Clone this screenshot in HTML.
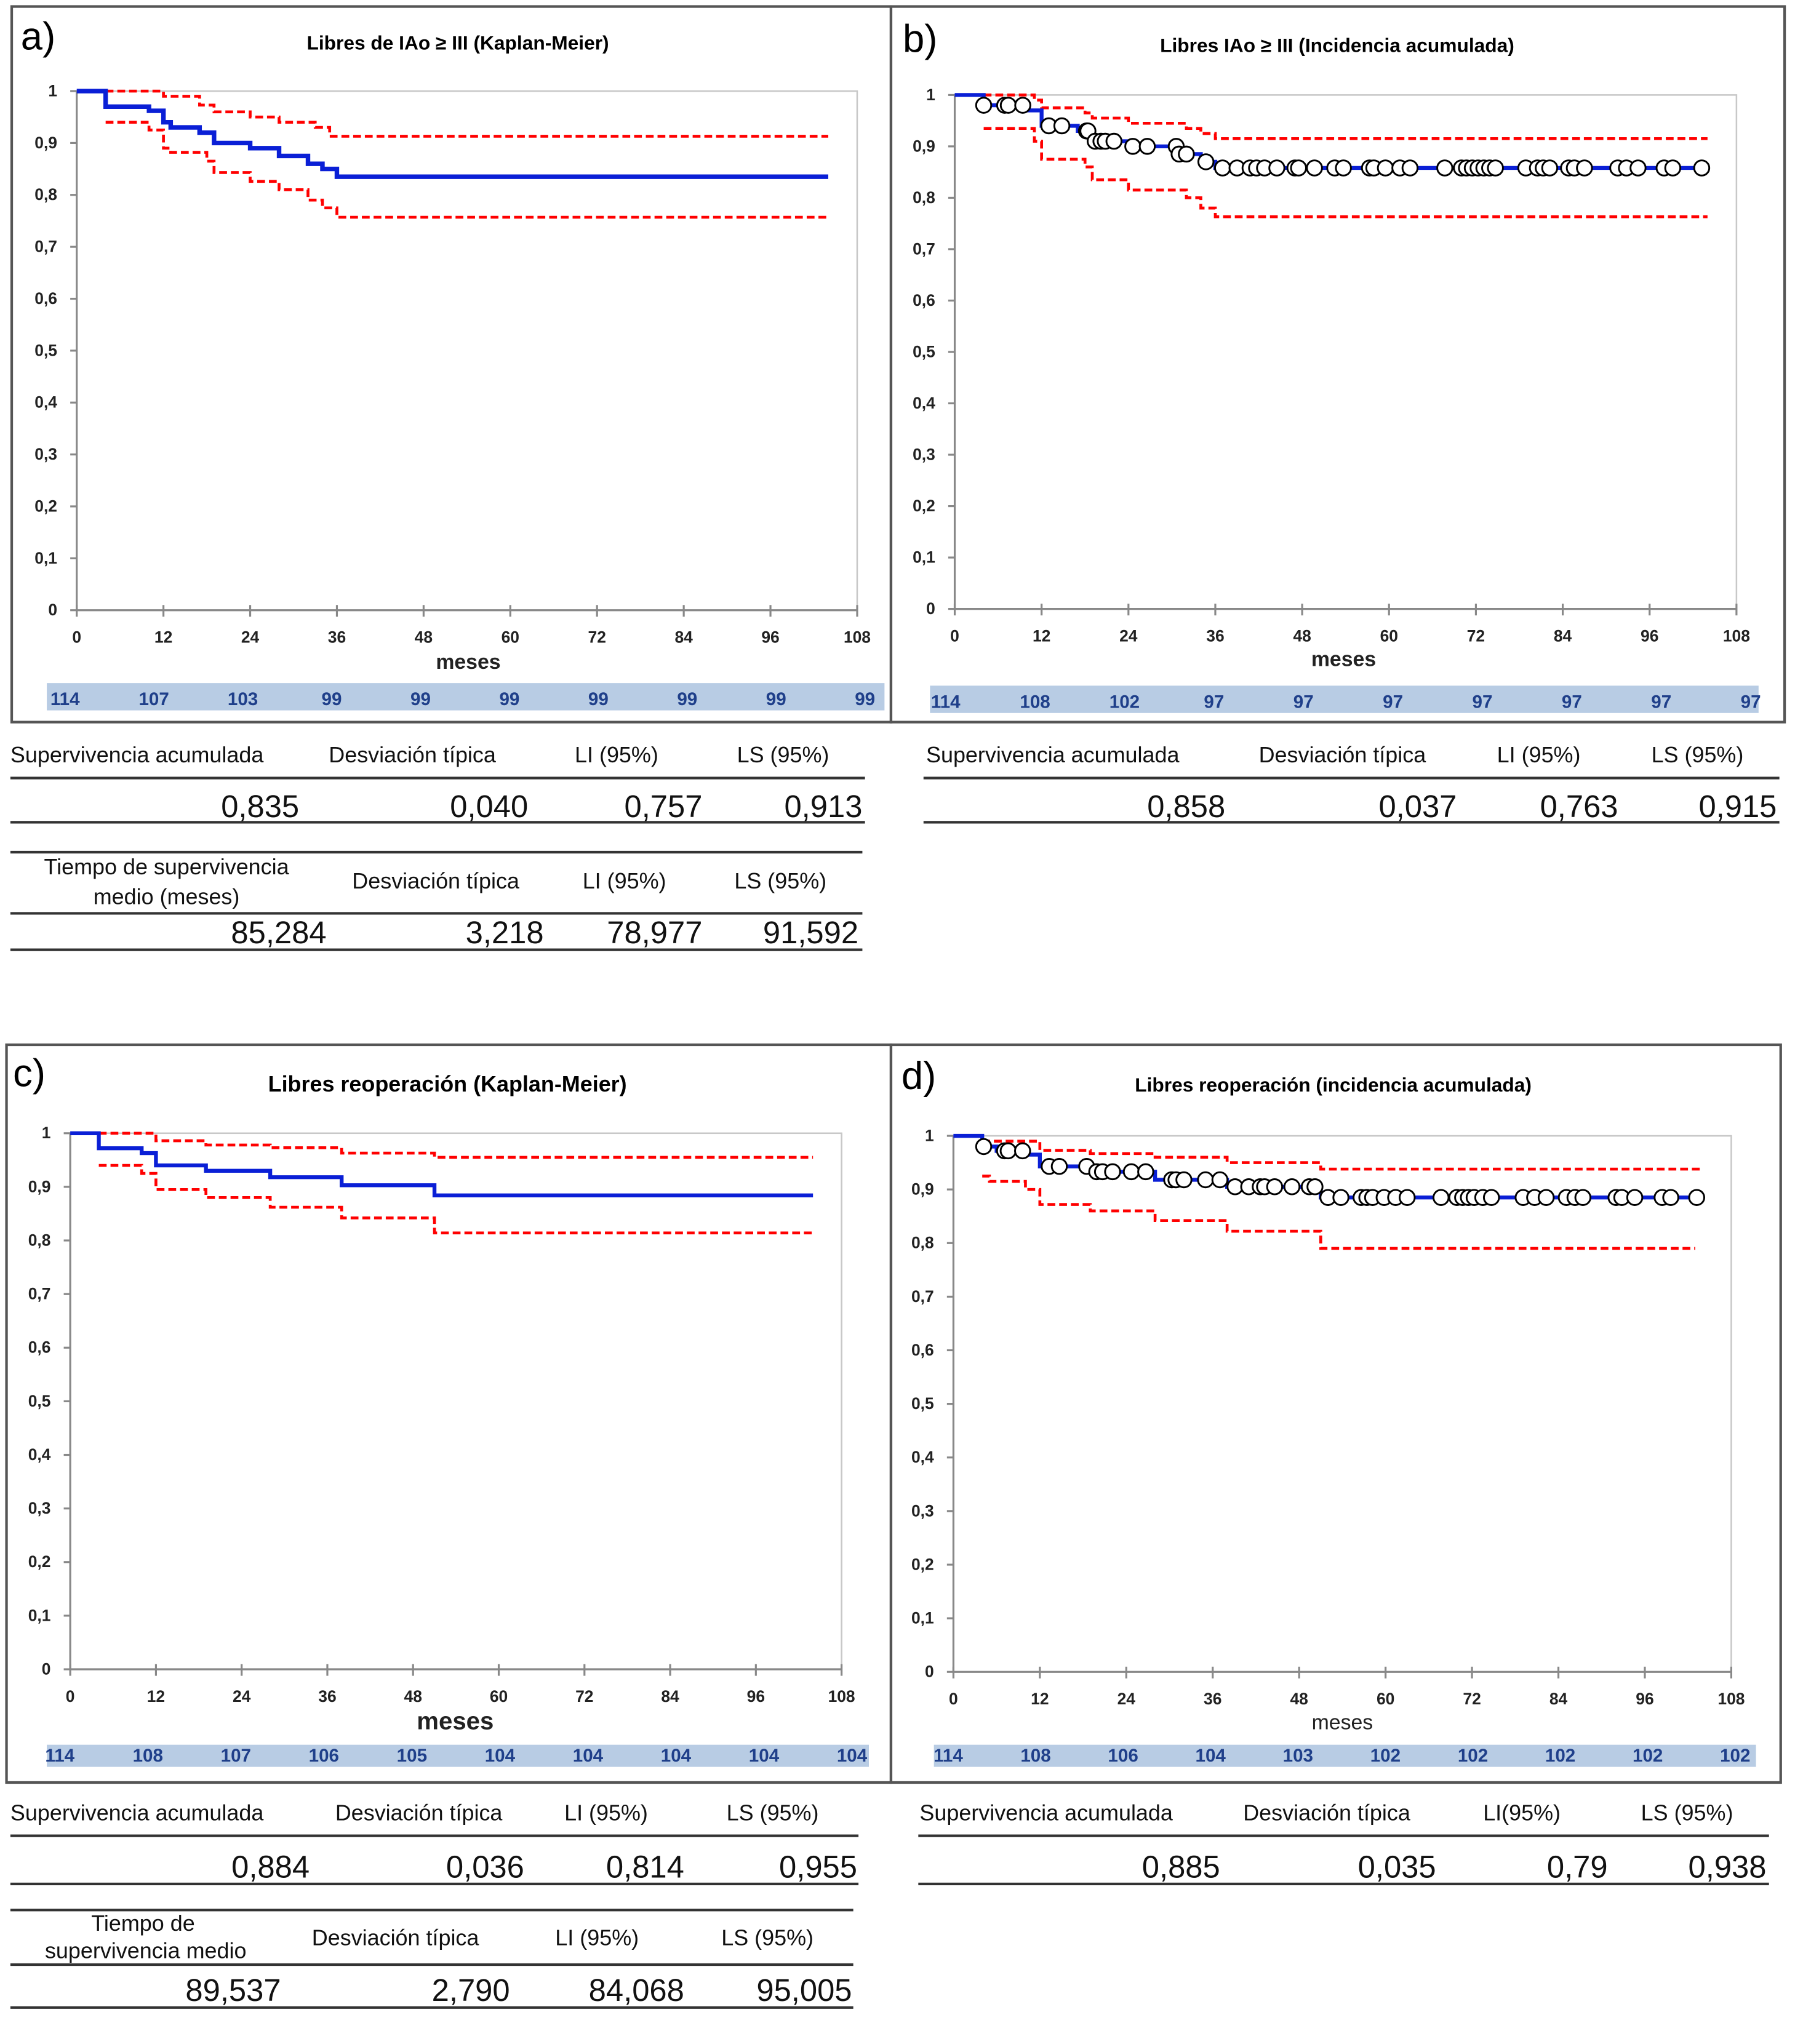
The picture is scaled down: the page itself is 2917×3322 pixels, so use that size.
<!DOCTYPE html>
<html><head><meta charset="utf-8"><style>
html,body{margin:0;padding:0;background:#fff}
svg{display:block}
text{font-family:"Liberation Sans",sans-serif}
</style></head><body>
<svg id="fig" xmlns="http://www.w3.org/2000/svg" width="2917" height="3322" viewBox="0 0 1380 1571" preserveAspectRatio="none">
<rect width="1380" height="1571" fill="#fff"/>
</svg>
<script>
// ---------- DATA ----------
const xTicks = [0,12,24,36,48,60,72,84,96,108];
const yTicks = [0,0.1,0.2,0.3,0.4,0.5,0.6,0.7,0.8,0.9,1];
const yTickLabels = ["0","0,1","0,2","0,3","0,4","0,5","0,6","0,7","0,8","0,9","1"];
const xTickLabels = ["0","12","24","36","48","60","72","84","96","108"];

// panel a
const aKmT = [0,4,10,12,13,17,19,24,28,32,34,36,104];
const aKmV = [1,0.97,0.962,0.94,0.93,0.92,0.90,0.89,0.875,0.86,0.85,0.835,0.835];
const aUpT = [4,12,17,19,24,28,33,35,104];
const aUpV = [1,0.99,0.973,0.96,0.95,0.94,0.93,0.913,0.913];
const aLoT = [4,10,12,13,18,19,24,28,32,34,36,104];
const aLoV = [0.94,0.925,0.89,0.882,0.865,0.843,0.826,0.81,0.79,0.775,0.757,0.757];
const aRisk = ["114","107","103","99","99","99","99","99","99","99"];

// panel b
const bKmT = [0,4,10,12,17,19,24,31,34,36,104];
const bKmV = [1,0.98,0.97,0.94,0.93,0.91,0.90,0.885,0.87,0.858,0.858];
const bUpT = [4,11,12,18,19,24,32,34,36,104];
const bUpV = [1,0.99,0.975,0.965,0.955,0.945,0.935,0.925,0.915,0.915];
const bLoT = [4,11,12,18,19,24,32,34,36,104];
const bLoV = [0.935,0.91,0.875,0.86,0.835,0.815,0.80,0.78,0.763,0.763];
const bCens = [4,6.9,7.4,9.4,13,14.8,18.2,18.4,19.4,20.2,20.8,22,24.6,26.6,30.6,31,32,34.7,37,39,40.8,41.7,42.8,44.5,47,47.5,49.7,52.5,53.7,57.3,57.9,59.5,61.5,62.9,67.7,70,70.7,71.5,72.3,73.1,73.9,74.7,78.9,80.5,81.3,82.2,84.8,85.6,87,91.6,92.8,94.4,98,99.2,103.2];
const bRisk = ["114","108","102","97","97","97","97","97","97","97"];

// panel c
const cKmT = [0,4,10,12,19,28,38,51,104];
const cKmV = [1,0.972,0.963,0.94,0.93,0.918,0.903,0.884,0.884];
const cUpT = [4,12,19,28,38,51,104];
const cUpV = [1,0.986,0.978,0.973,0.963,0.955,0.955];
const cLoT = [4,10,12,19,28,38,51,104];
const cLoV = [0.94,0.925,0.895,0.88,0.862,0.842,0.814,0.814];
const cRisk = ["114","108","107","106","105","104","104","104","104","104"];

// panel d
const dKmT = [0,4,6,10,12,19,28,38,51,104];
const dKmV = [1,0.98,0.972,0.965,0.943,0.933,0.918,0.905,0.885,0.885];
const dUpT = [4,12,19,28,38,51,104];
const dUpV = [0.99,0.973,0.967,0.96,0.95,0.938,0.938];
const dLoT = [4,5,10,12,19,28,38,51,103];
const dLoV = [0.925,0.915,0.9,0.872,0.86,0.842,0.822,0.79,0.79];
const dCens = [4.2,7.1,7.6,9.6,13.3,14.7,18.5,19.9,20.7,22.1,24.7,26.7,30.3,30.9,32,35,37,39.1,41,42.6,43.2,44.6,47,49.4,50.2,52,53.8,56.6,57.4,58.2,59.8,61.4,63,67.7,69.9,70.7,71.5,72.3,73.5,74.7,79.1,80.7,82.3,85.1,86.3,87.4,92,92.8,94.6,98.4,99.6,103.2];
const dRisk = ["114","108","106","104","103","102","102","102","102","102"];

// ---------- RENDER ----------
const NS = "http://www.w3.org/2000/svg";
const svg = document.getElementById('fig');
function mk(tag, attrs, parent){
  const e = document.createElementNS(NS, tag);
  for (const k in attrs) e.setAttribute(k, attrs[k]);
  (parent||svg).appendChild(e);
  return e;
}
function txt(s, x, y, size, opts, parent){
  opts = opts||{};
  const t = mk('text', {x:x, y:y, 'font-size':size, fill:opts.fill||'#000',
    'font-weight':opts.bold?'bold':'normal', 'text-anchor':opts.anchor||'start'}, parent);
  t.textContent = s;
  return t;
}
function stepPath(T, V, sx, sy){
  let d = 'M'+sx(T[0])+' '+sy(V[0]);
  for (let i=1;i<T.length;i++){
    d += ' L'+sx(T[i])+' '+sy(V[i-1]);
    d += ' L'+sx(T[i])+' '+sy(V[i]);
  }
  return d;
}
function valAt(T, V, t){
  let v = V[0];
  for (let i=0;i<T.length;i++){ if (T[i] <= t) v = V[i]; }
  return v;
}

function panel(p){
  const g = mk('g', {});
  
  
  const fr = mk('rect', {x:p.fx, y:p.fy, width:p.fw, height:p.fh, fill:'none', stroke:'#555', 'stroke-width':2}, g);
  
  
  const lab = txt(p.letter, p.lx, p.ly, 30, {}, g);
  
  
  const ti = txt(p.title, p.tx, p.ty, p.tsize, {bold:true, anchor:'middle'}, g);
  
  
  const sx = t => p.x0 + (t/108)*(p.x1-p.x0);
  const sy = v => p.y0 - v*(p.y0-p.y1);
  const pa = mk('rect', {x:p.x0, y:p.y1, width:p.x1-p.x0, height:p.y0-p.y1, fill:'#fff', stroke:'#c8c8c8', 'stroke-width':1.2}, g);
  
  
  const ya = mk('line', {x1:p.x0, y1:p.y1, x2:p.x0, y2:p.y0, stroke:'#888', 'stroke-width':1.5}, g);
  
  
  const xa = mk('line', {x1:p.x0, y1:p.y0, x2:p.x1, y2:p.y0, stroke:'#888', 'stroke-width':1.5}, g);
  
  
  yTicks.forEach((v,i)=>{
    const tk = mk('line', {x1:p.x0-5, y1:sy(v), x2:p.x0, y2:sy(v), stroke:'#888', 'stroke-width':1.5}, g);
    
    
    const tl = txt(yTickLabels[i], p.x0-15, sy(v)+4, 12.5, {bold:true, anchor:'end', fill:'#222'}, g);
    
    
  });
  xTicks.forEach((t,i)=>{
    const tk = mk('line', {x1:sx(t), y1:p.y0-4, x2:sx(t), y2:p.y0+5, stroke:'#888', 'stroke-width':1.5}, g);
    
    
    const tl = txt(xTickLabels[i], sx(t), p.y0+25, 12.5, {bold:true, anchor:'middle', fill:'#222'}, g);
    
    
  });
  const xt = txt('meses', p.mx, p.my, p.msize, {bold:p.mbold, anchor:'middle', fill:'#222'}, g);
  
  
  const up = mk('path', {d:stepPath(p.upT,p.upV,sx,sy), fill:'none', stroke:'#f00', 'stroke-width':2.2, 'stroke-dasharray':'6,3'}, g);
  
  
  const lo = mk('path', {d:stepPath(p.loT,p.loV,sx,sy), fill:'none', stroke:'#f00', 'stroke-width':2.2, 'stroke-dasharray':'6,3'}, g);
  
  
  const km = mk('path', {d:stepPath(p.kmT,p.kmV,sx,sy), fill:'none', stroke:'#0a1fd6', 'stroke-width':p.kmw}, g);
  
  
  if (p.cens){
    p.cens.forEach(t=>{
      const c = mk('circle', {cx:sx(t), cy:sy(valAt(p.kmT,p.kmV,t)), r:5.8, fill:'#fff', stroke:'#000', 'stroke-width':1.4}, g);
      
      
    });
  }
  const band = mk('rect', {x:p.bx0, y:p.by, width:p.bx1-p.bx0, height:p.bh, fill:'#b8cce4'}, g);
  
  
  p.risk.forEach((s,i)=>{
    const rx = p.r0 + i*(p.r9-p.r0)/9;
    const r = txt(s, rx, p.by+p.bh-4, 14, {bold:true, anchor:'middle', fill:'#1f3f8a'}, g);
    
    
  });
}

panel({name:'panel-a', letter:'a)', fx:9, fy:5, fw:676, fh:550, lx:16, ly:38,
  title:'Libres de IAo ≥ III (Kaplan-Meier)', tx:352, ty:38, tsize:15,
  x0:59, x1:659, y1:70, y0:469, mx:360, my:514, msize:16, mbold:true,
  kmT:aKmT, kmV:aKmV, upT:aUpT, upV:aUpV, loT:aLoT, loV:aLoV, kmw:3.5,
  bx0:36, bx1:680, by:525, bh:21, r0:50, r9:665, risk:aRisk});
panel({name:'panel-b', letter:'b)', fx:685, fy:5, fw:687, fh:550, lx:694, ly:40,
  title:'Libres IAo ≥ III (Incidencia acumulada)', tx:1028, ty:40, tsize:15,
  x0:734, x1:1335, y1:73, y0:468, mx:1033, my:512, msize:16, mbold:true,
  kmT:bKmT, kmV:bKmV, upT:bUpT, upV:bUpV, loT:bLoT, loV:bLoV, kmw:3, cens:bCens,
  bx0:715, bx1:1352, by:527, bh:21, r0:727, r9:1346, risk:bRisk});
panel({name:'panel-c', letter:'c)', fx:5, fy:803, fw:680, fh:567, lx:10, ly:835,
  title:'Libres reoperación (Kaplan-Meier)', tx:344, ty:839, tsize:17,
  x0:54, x1:647, y1:871, y0:1283, mx:350, my:1329, msize:19, mbold:true,
  kmT:cKmT, kmV:cKmV, upT:cUpT, upV:cUpV, loT:cLoT, loV:cLoV, kmw:3,
  bx0:36, bx1:668, by:1341, bh:17, r0:46, r9:655, risk:cRisk});
panel({name:'panel-d', letter:'d)', fx:685, fy:803, fw:684, fh:567, lx:693, ly:837,
  title:'Libres reoperación (incidencia acumulada)', tx:1025, ty:839, tsize:15,
  x0:733, x1:1331, y1:873, y0:1285, mx:1032, my:1329, msize:16, mbold:false,
  kmT:dKmT, kmV:dKmV, upT:dUpT, upV:dUpV, loT:dLoT, loV:dLoV, kmw:3, cens:dCens,
  bx0:718, bx1:1350, by:1341, bh:17, r0:729, r9:1334, risk:dRisk});

// ---------- TABLES ----------
function hline(x1,x2,y,name){
  const l = mk('line', {x1:x1, y1:y, x2:x2, y2:y, stroke:'#333', 'stroke-width':2});
  
  
}
function tcell(s,x,y,size,anchor,name){
  const t = txt(s,x,y,size,{anchor:anchor, fill:'#111'});
  
  
}
tcell('Supervivencia acumulada',8,586,17,'start','table-header');
tcell('Desviación típica',317,586,17,'middle','table-header');
tcell('LI (95%)',474,586,17,'middle','table-header');
tcell('LS (95%)',602,586,17,'middle','table-header');
hline(8,665,598,'table-rule');
tcell('0,835',230,628,24,'end','table-value');
tcell('0,040',406,628,24,'end','table-value');
tcell('0,757',540,628,24,'end','table-value');
tcell('0,913',663,628,24,'end','table-value');
hline(8,665,632,'table-rule');
hline(8,663,655,'table-rule');
tcell('Tiempo de supervivencia',128,672,17,'middle','table-header');
tcell('medio  (meses)',128,695,17,'middle','table-header');
tcell('Desviación típica',335,683,17,'middle','table-header');
tcell('LI (95%)',480,683,17,'middle','table-header');
tcell('LS (95%)',600,683,17,'middle','table-header');
hline(8,663,702,'table-rule');
tcell('85,284',251,725,24,'end','table-value');
tcell('3,218',418,725,24,'end','table-value');
tcell('78,977',540,725,24,'end','table-value');
tcell('91,592',660,725,24,'end','table-value');
hline(8,663,730,'table-rule');
tcell('Supervivencia acumulada',712,586,17,'start','table-header');
tcell('Desviación típica',1032,586,17,'middle','table-header');
tcell('LI (95%)',1183,586,17,'middle','table-header');
tcell('LS (95%)',1305,586,17,'middle','table-header');
hline(710,1368,598,'table-rule');
tcell('0,858',942,628,24,'end','table-value');
tcell('0,037',1120,628,24,'end','table-value');
tcell('0,763',1244,628,24,'end','table-value');
tcell('0,915',1366,628,24,'end','table-value');
hline(710,1368,632,'table-rule');
tcell('Supervivencia acumulada',8,1399,17,'start','table-header');
tcell('Desviación típica',322,1399,17,'middle','table-header');
tcell('LI (95%)',466,1399,17,'middle','table-header');
tcell('LS (95%)',594,1399,17,'middle','table-header');
hline(8,660,1411,'table-rule');
tcell('0,884',238,1443,24,'end','table-value');
tcell('0,036',403,1443,24,'end','table-value');
tcell('0,814',526,1443,24,'end','table-value');
tcell('0,955',659,1443,24,'end','table-value');
hline(8,660,1448,'table-rule');
hline(8,656,1468,'table-rule');
tcell('Tiempo de',110,1484,17,'middle','table-header');
tcell('supervivencia medio',112,1505,17,'middle','table-header');
tcell('Desviación típica',304,1495,17,'middle','table-header');
tcell('LI (95%)',459,1495,17,'middle','table-header');
tcell('LS (95%)',590,1495,17,'middle','table-header');
hline(8,656,1510,'table-rule');
tcell('89,537',216,1538,24,'end','table-value');
tcell('2,790',392,1538,24,'end','table-value');
tcell('84,068',526,1538,24,'end','table-value');
tcell('95,005',655,1538,24,'end','table-value');
hline(8,656,1543,'table-rule');
tcell('Supervivencia acumulada',707,1399,17,'start','table-header');
tcell('Desviación típica',1020,1399,17,'middle','table-header');
tcell('LI(95%)',1170,1399,17,'middle','table-header');
tcell('LS (95%)',1297,1399,17,'middle','table-header');
hline(706,1360,1411,'table-rule');
tcell('0,885',938,1443,24,'end','table-value');
tcell('0,035',1104,1443,24,'end','table-value');
tcell('0,79',1236,1443,24,'end','table-value');
tcell('0,938',1358,1443,24,'end','table-value');
hline(706,1360,1448,'table-rule');
</script>
</body></html>
